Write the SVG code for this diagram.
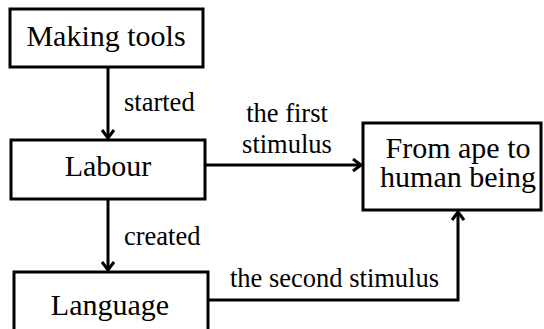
<svg xmlns="http://www.w3.org/2000/svg" width="544" height="329" viewBox="0 0 544 329">
<style>
.box{fill:#fff;stroke:#000;stroke-width:3}
.nt{font-size:30px;fill:#000;text-anchor:middle}
.lb{font-size:26.5px;fill:#000}
.cn{fill:none;stroke:#000;stroke-width:3}
</style>
<defs>
<marker id="ah" markerWidth="12" markerHeight="14" refX="10" refY="7" orient="auto" markerUnits="userSpaceOnUse">
<path d="M2,1 L10,7 L2,13" fill="none" stroke="#000" stroke-width="3"/>
</marker>
</defs>
<g id="n1"><rect class="box" x="10" y="9" width="193" height="58"/><text class="nt" font-family="Liberation Serif" x="106" y="46">Making tools</text></g>
<g id="n2"><rect class="box" x="11" y="140" width="194" height="59"/><text class="nt" font-family="Liberation Serif" x="108" y="176">Labour</text></g>
<g id="n3"><rect class="box" x="14" y="272" width="194" height="70"/><text class="nt" font-family="Liberation Serif" x="110" y="315">Language</text></g>
<g id="n4"><rect class="box" x="363" y="123" width="178" height="87"/><text class="nt" font-family="Liberation Serif" x="458" y="158">From ape to</text><text class="nt" font-family="Liberation Serif" x="458" y="187">human being</text></g>
<g id="connectors">
<path class="cn" d="M108,67 V138" marker-end="url(#ah)"/>
<path class="cn" d="M108,199 V270" marker-end="url(#ah)"/>
<path class="cn" d="M205,165 H361" marker-end="url(#ah)"/>
<path class="cn" d="M208,300 H458 V212" marker-end="url(#ah)"/>
<text class="lb" font-family="Liberation Serif" x="124" y="111">started</text>
<text class="lb" font-family="Liberation Serif" x="124" y="245">created</text>
<text class="lb" font-family="Liberation Serif" x="287" y="122" text-anchor="middle">the first</text>
<text class="lb" font-family="Liberation Serif" x="287" y="153" text-anchor="middle">stimulus</text>
<text class="lb" font-family="Liberation Serif" x="230" y="287">the second stimulus</text>
</g>
</svg>
